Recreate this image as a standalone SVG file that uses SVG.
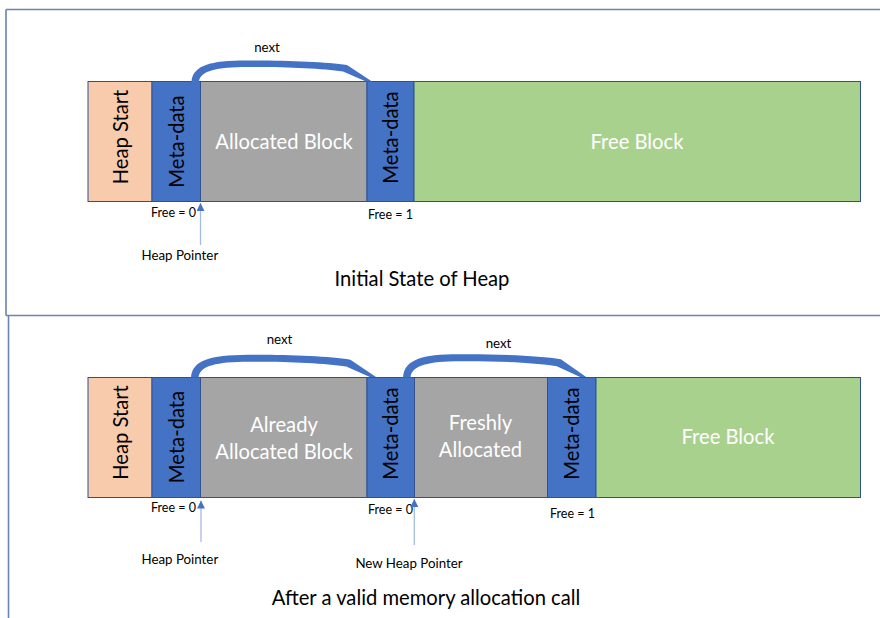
<svg xmlns="http://www.w3.org/2000/svg" width="880" height="618" viewBox="0 0 880 618">
  <style>
    text { font-family: Lato, Carlito, "Liberation Sans", sans-serif; }
    .blk { stroke: #2F528F; stroke-width: 1; }
    .start { fill: #F8CBAD; }
    .meta { fill: #4472C4; }
    .used { fill: #A5A5A5; }
    .free { fill: #A9D18E; }
    .big { font-size: 20.2px; }
    .dark { fill: #000; }
    .light { fill: #FFFFFF; }
    .small { font-size: 12.5px; fill: #000; }
    .tag { font-size: 13.3px; fill: #000; }
    .caption { font-size: 20.2px; fill: #000; }
    .frame { stroke: #6A83B0; stroke-width: 1.6; fill: none; }
    .ptr { stroke: #A4BCE4; stroke-width: 1.3; fill: none; }
    .arc { fill: #4472C4; }
  </style>
  <defs>
    <!-- curved "next" link, local origin at its left foot -->
    <path id="nextArc" d="M0,0 C1,-14 13.5,-21 48.5,-21.5 C88.5,-22 133.5,-20.5 155.5,-17 L180.5,-0.5 L174.5,-0.5 L151.5,-10.5 C128.5,-14 88.5,-15.5 50.5,-15 C20.5,-14.5 8,-9.5 7.5,0 Z"/>
    <marker id="ptrHead" markerUnits="userSpaceOnUse" markerWidth="8" markerHeight="9" refX="8" refY="4" orient="auto">
      <path d="M0,0 L8,4 L0,8 Z" fill="#4472C4"/>
    </marker>
  </defs>

  <rect width="880" height="618" fill="#FFFFFF"/>

  <!-- panel frame -->
  <g id="frame">
    <path class="frame" d="M6,9.5 H880 M6,9.5 V315.5 M6,315.5 H880 M8.5,315.5 V618"/>
  </g>

  <!-- ===== initial heap ===== -->
  <g id="heapStart1">
    <rect class="blk start" x="88" y="81.5" width="64" height="120"/>
    <text class="big dark" text-anchor="middle" transform="translate(128,137) rotate(-90)">Heap Start</text>
  </g>
  <g id="meta1a">
    <rect class="blk meta" x="152" y="81.5" width="48.5" height="120"/>
    <text class="big dark" text-anchor="middle" transform="translate(183.5,141.5) rotate(-90)">Meta-data</text>
  </g>
  <g id="allocated1">
    <rect class="blk used" x="200.5" y="81.5" width="166.5" height="120"/>
    <text class="big light" text-anchor="middle" x="284" y="149">Allocated Block</text>
  </g>
  <g id="meta1b">
    <rect class="blk meta" x="367" y="81.5" width="47" height="120"/>
    <text class="big dark" text-anchor="middle" transform="translate(397.5,137.5) rotate(-90)">Meta-data</text>
  </g>
  <g id="free1">
    <rect class="blk free" x="414" y="81.5" width="446.5" height="120"/>
    <text class="big light" text-anchor="middle" x="637" y="148.5">Free Block</text>
  </g>
  <g id="labels1">
    <text class="small" x="151" y="217">Free = 0</text>
    <text class="small" x="368" y="219">Free = 1</text>
    <text class="tag" x="141.5" y="260">Heap Pointer</text>
    <text class="caption" text-anchor="middle" x="422" y="286">Initial State of Heap</text>
    <text class="tag" text-anchor="middle" x="267" y="52">next</text>
  </g>

  <!-- ===== after allocation ===== -->
  <g id="heapStart2">
    <rect class="blk start" x="88" y="377.5" width="64" height="120"/>
    <text class="big dark" text-anchor="middle" transform="translate(128,432.5) rotate(-90)">Heap Start</text>
  </g>
  <g id="meta2a">
    <rect class="blk meta" x="152" y="377.5" width="48.5" height="120"/>
    <text class="big dark" text-anchor="middle" transform="translate(183.5,437) rotate(-90)">Meta-data</text>
  </g>
  <g id="allocated2">
    <rect class="blk used" x="200.5" y="377.5" width="166.5" height="120"/>
    <text class="big light" text-anchor="middle" x="284" y="432">Already</text>
    <text class="big light" text-anchor="middle" x="284" y="458.5">Allocated Block</text>
  </g>
  <g id="meta2b">
    <rect class="blk meta" x="367" y="377.5" width="47.5" height="120"/>
    <text class="big dark" text-anchor="middle" transform="translate(397.5,433.5) rotate(-90)">Meta-data</text>
  </g>
  <g id="fresh2">
    <rect class="blk used" x="414.5" y="377.5" width="133" height="120"/>
    <text class="big light" text-anchor="middle" x="480.5" y="430">Freshly</text>
    <text class="big light" text-anchor="middle" x="480.5" y="456.5">Allocated</text>
  </g>
  <g id="meta2c">
    <rect class="blk meta" x="547.5" y="377.5" width="48.5" height="120"/>
    <text class="big dark" text-anchor="middle" transform="translate(579,433.5) rotate(-90)">Meta-data</text>
  </g>
  <g id="free2">
    <rect class="blk free" x="596" y="377.5" width="264.5" height="120"/>
    <text class="big light" text-anchor="middle" x="728" y="444">Free Block</text>
  </g>
  <g id="labels2">
    <text class="small" x="151" y="512">Free = 0</text>
    <text class="small" x="368" y="514">Free = 0</text>
    <text class="small" x="550" y="518">Free = 1</text>
    <text class="tag" x="141.5" y="563.5">Heap Pointer</text>
    <text class="tag" text-anchor="middle" x="409" y="568">New Heap Pointer</text>
    <text class="caption" text-anchor="middle" x="426" y="605">After a valid memory allocation call</text>
    <text class="tag" text-anchor="middle" x="279.5" y="344">next</text>
    <text class="tag" text-anchor="middle" x="498.5" y="348">next</text>
  </g>

  <!-- links and pointers -->
  <g id="connectors">
    <use href="#nextArc" class="arc" transform="translate(191.5,82)"/>
    <use href="#nextArc" class="arc" transform="translate(191,377.5) scale(1.025,1.05)"/>
    <use href="#nextArc" class="arc" transform="translate(403,377.5) scale(1.015,1.08)"/>
    <line class="ptr" x1="200.5" y1="245" x2="200.5" y2="203" marker-end="url(#ptrHead)"/>
    <line class="ptr" x1="201" y1="542" x2="201" y2="500.5" marker-end="url(#ptrHead)"/>
    <line class="ptr" x1="414.3" y1="545" x2="414.3" y2="499" marker-end="url(#ptrHead)"/>
  </g>
</svg>
